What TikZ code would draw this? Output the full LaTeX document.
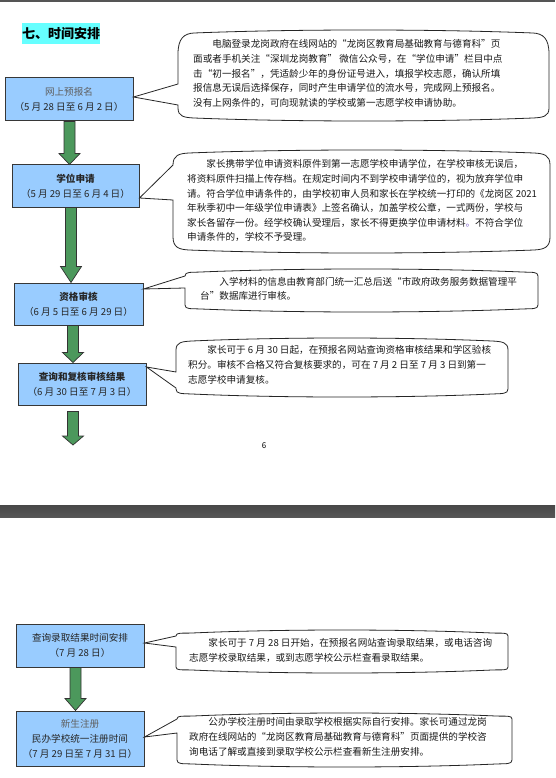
\documentclass[tikz,border=0pt]{standalone}
\usepackage{fontspec}
\setmainfont{Noto Sans CJK SC}
\usetikzlibrary{calc}
\definecolor{boxblue}{RGB}{153,204,255}
\definecolor{arrgreen}{RGB}{76,152,92}
\definecolor{edgegray}{RGB}{55,55,55}
\definecolor{titlecyan}{RGB}{102,255,255}
\definecolor{softgray}{RGB}{95,95,95}
\definecolor{barcolor}{RGB}{85,85,85}
\definecolor{dotpurple}{RGB}{120,90,200}
\newcommand{\zhlq}{\makebox[1em][r]{“}}
\newcommand{\zhrq}{\makebox[1em][l]{”}}
\tikzset{
  stepbox/.style={draw=edgegray, line width=1pt, fill=boxblue, inner sep=0pt, align=center,
    font=\fontsize{9.6}{15}\selectfont, text=black!85},
  blockarrow/.style={draw=black!80, line width=0.7pt, fill=arrgreen},
  calloutshape/.style={draw=black!85, line width=0.8pt, fill=white},
  callouttext/.style={anchor=north west, inner sep=0pt, align=left,
    font=\fontsize{9.6}{14.6}\selectfont, text=black!90},
}
% block arrow: #1 x centre, #2 start, #3 tip, #4 head length
\newcommand{\blockarr}[4]{%
  \filldraw[blockarrow] let \p1=(#2), \p2=(#3) in
    (#1pt-5.5pt,\y1) -- (#1pt+5.5pt,\y1) -- (#1pt+5.5pt,\y2+#4pt) -- (#1pt+10.5pt,\y2+#4pt)
    -- (#1pt,\y2) -- (#1pt-10.5pt,\y2+#4pt) -- (#1pt-5.5pt,\y2+#4pt) -- cycle;}
% callout: L T R B upper-base lower-base tip corner-top corner-bottom
\newcommand{\callout}[9]{%
  \draw[calloutshape] (#1,#6) -- (#7) -- (#1,#5) -- (#1,#2+#8)
    .. controls (#1,#2+0.35*#8) and (#1+6,#2+3.5) .. (#1+16,#2+3)
    .. controls ({#1+16+0.3*(#3-#1-32)},#2-1) and ({#3-16-0.3*(#3-#1-32)},#2-1) .. (#3-16,#2+3)
    .. controls (#3-6,#2+3.5) and (#3,#2+0.35*#8) .. (#3,#2+#8)
    -- (#3,#4-#9)
    .. controls (#3,#4-0.35*#9) and (#3-6,#4-3.5) .. (#3-16,#4-3)
    .. controls ({#3-16-0.3*(#3-#1-32)},#4+1) and ({#1+16+0.3*(#3-#1-32)},#4+1) .. (#1+16,#4-3)
    .. controls (#1+6,#4-3.5) and (#1,#4-0.35*#9) .. (#1,#4-#9)
    -- cycle;}
\begin{document}
\begin{tikzpicture}[x=1pt,y=-1pt]
\useasboundingbox (0,0) rectangle (555,778);
\fill[white] (0,0) rectangle (555,778);
\fill[barcolor] (0,0) rectangle (555,2);
\shade[top color=black!72, bottom color=black!66] (0,505) rectangle (555,517);

\node[fill=titlecyan, inner sep=0pt, minimum height=21pt, font=\fontsize{13}{13}\selectfont\bfseries] (title) at (61,34) {七、时间安排};

\node[stepbox, minimum width=128pt, minimum height=43pt] (b1) at (69,99.5)
  {{\color{softgray}网上预报名}\\（5 月 28 日至 6 月 2 日）};
\node[stepbox, minimum width=127pt, minimum height=42pt] (b2) at (75.5,186)
  {{\bfseries 学位申请}\\（5 月 29 日至 6 月 4 日）};
\node[stepbox, minimum width=129pt, minimum height=42pt] (b3) at (78.5,304)
  {{\bfseries 资格审核}\\（6 月 5 日至 6 月 29 日）};
\node[stepbox, minimum width=128pt, minimum height=42pt] (b4) at (82,384)
  {{\bfseries 查询和复核审核结果}\\（6 月 30 日至 7 月 3 日）};
\node[stepbox, minimum width=128pt, minimum height=43pt] (b5) at (80,645.5)
  {查询录取结果时间安排\\（7 月 28 日）};
\node[stepbox, minimum width=128pt, minimum height=55pt] (b6) at (80,738.5)
  {{\color{softgray}新生注册}\\民办学校统一注册时间\\（7 月 29 日至 7 月 31 日）};

\coordinate (a4end) at (73,445);
\blockarr{69.5}{b1.south}{b2.north}{11}
\blockarr{71}{b2.south}{b3.north}{16}
\blockarr{73}{b3.south}{b4.north}{10}
\blockarr{73}{[yshift=-6pt]b4.south}{a4end}{9}
\blockarr{75.5}{b5.south}{b6.north}{12}

\callout{178}{30}{549}{121}{84}{105}{[yshift=2.5pt]b1.east}{24}{13}
\callout{173}{150}{550}{253}{165}{200}{[yshift=-12pt]b2.east}{15}{16}
\callout{185}{269}{538}{312}{276}{288}{[yshift=15pt]b3.east}{7}{7}
\callout{176}{338}{508}{397}{372}{388}{[yshift=17pt]b4.east}{12}{8}
\callout{176}{630}{508}{673}{636}{647}{[yshift=2.5pt]b5.east}{6}{6}
\callout{177}{713}{512}{767}{719}{733}{[yshift=1.5pt]b6.east}{6}{7}

\node[callouttext] (t1) at (193,39.5) {\hspace*{2em}电脑登录龙岗政府在线网站的\zhlq 龙岗区教育局基础教育与德育科\zhrq 页\\
面或者手机关注\zhlq 深圳龙岗教育\zhrq\ 微信公众号，在\zhlq 学位申请\zhrq 栏目中点\\
击\zhlq 初一报名\zhrq ，凭适龄少年的身份证号进入，填报学校志愿，确认所填\\
报信息无误后选择保存，同时产生申请学位的流水号，完成网上预报名。\\
没有上网条件的，可向现就读的学校或第一志愿学校申请协助。};

\node[callouttext] (t2) at (187,159.5) {\hspace*{2em}家长携带学位申请资料原件到第一志愿学校申请学位，在学校审核无误后，\\
将资料原件扫描上传存档。在规定时间内不到学校申请学位的，视为放弃学位申\\
请。符合学位申请条件的，由学校初审人员和家长在学校统一打印的《龙岗区 2021\\
年秋季初中一年级学位申请表》上签名确认，加盖学校公章，一式两份，学校与\\
家长各留存一份。经学校确认受理后，家长不得更换学位申请材料\textcolor{dotpurple}{。}不符合学位\\
申请条件的，学校不予受理。};

\node[callouttext] (t3) at (200,277) {\hspace*{2em}入学材料的信息由教育部门统一汇总后送\zhlq 市政府政务服务数据管理平\\
台\zhrq 数据库进行审核。};

\node[callouttext] (t4) at (188,345.5) {\hspace*{2em}家长可于 6 月 30 日起，在预报名网站查询资格审核结果和学区验核\\
积分。审核不合格又符合复核要求的，可在 7 月 2 日至 7 月 3 日到第一\\
志愿学校申请复核。};

\node[callouttext] (t5) at (189,638.5) {\hspace*{2em}家长可于 7 月 28 日开始，在预报名网站查询录取结果，或电话咨询\\
志愿学校录取结果，或到志愿学校公示栏查看录取结果。};

\node[callouttext] (t6) at (189,717.5) {\hspace*{2em}公办学校注册时间由录取学校根据实际自行安排。家长可通过龙岗\\
政府在线网站的\zhlq 龙岗区教育局基础教育与德育科\zhrq 页面提供的学校咨\\
询电话了解或直接到录取学校公示栏查看新生注册安排。};

\node[font=\fontsize{8}{8}\selectfont] (pnum) at (264,446) {6};
\end{tikzpicture}
\end{document}
